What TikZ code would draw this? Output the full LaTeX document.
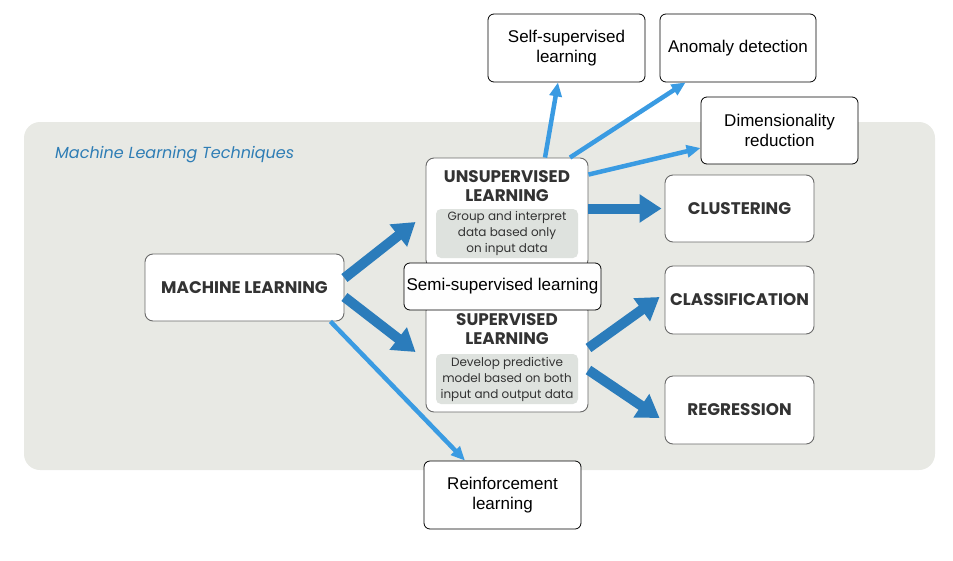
\documentclass[tikz,border=0pt]{standalone}
\usepackage{fontspec}
\setmainfont{Liberation Sans}
\newfontfamily\geo{Poppins}
\usetikzlibrary{arrows.meta}

\definecolor{panel}{HTML}{E8E9E4}
\definecolor{descfill}{HTML}{DEE2DE}
\definecolor{ink}{HTML}{333333}
\definecolor{rim}{HTML}{6A6A6A}
\definecolor{deepblue}{HTML}{2B7CBB}
\definecolor{skyblue}{HTML}{3A9BE2}
\definecolor{titleblue}{HTML}{2E7DB5}

\tikzset{
  conceptbox/.style={draw=rim, line width=0.9pt, fill=white, rounded corners=8pt, inner sep=0pt},
  plainbox/.style={draw=black, line width=0.8pt, fill=white, rounded corners=6pt, inner sep=0pt,
    align=center, font=\fontsize{17}{20}\selectfont},
  headtext/.style={font=\geo\bfseries\fontsize{16.8}{19}\selectfont, text=ink, align=center, inner sep=0pt},
  desctext/.style={fill=descfill, rounded corners=5pt, inner sep=0pt, align=center, text=ink,
    font=\geo\fontsize{12}{16}\selectfont},
  bigarrow/.style={draw=deepblue, line width=10pt, -{Triangle[length=22pt,width=27pt]}},
  thinarrow/.style={draw=skyblue, line width=4.5pt, -{Triangle[length=14pt,width=12pt]}},
}

\begin{document}
\begin{tikzpicture}[x=1pt,y=-1pt]
  \useasboundingbox (0,0) rectangle (953,560);

  % panel behind the technique map
  \fill[panel, rounded corners=16pt] (24,122) rectangle (935,470);
  \node[anchor=west, text=titleblue, font=\geo\itshape\fontsize{16}{18}\selectfont, inner sep=0pt]
    (paneltitle) at (55,155) {Machine Learning Techniques};

  % main concept boxes
  \node[conceptbox, minimum width=199pt, minimum height=67pt] (ml) at (244.5,287.5) {};
  \node[headtext] (mltext) at (ml.center) {MACHINE LEARNING};

  \node[conceptbox, minimum width=162pt, minimum height=110pt] (unsup) at (507,213) {};
  \node[headtext] (unsuptitle) at (507,186.5) {UNSUPERVISED\\LEARNING};
  \node[desctext, minimum width=142pt, minimum height=49pt] (unsupdesc) at (507,233.5)
    {Group and interpret\\data based only\\on input data};

  \node[conceptbox, minimum width=162pt, minimum height=109pt] (sup) at (507,357.5) {};
  \node[headtext] (suptitle) at (507,329.5) {SUPERVISED\\LEARNING};
  \node[desctext, minimum width=142pt, minimum height=50pt] (supdesc) at (507,379)
    {Develop predictive\\model based on both\\input and output data};

  \node[plainbox, fill=white!97!panel, minimum width=197pt, minimum height=47pt] (semi) at (502.5,286.5)
    {Semi-supervised learning};

  % task boxes
  \node[conceptbox, minimum width=149pt, minimum height=67pt] (clust) at (739.5,208.5) {};
  \node[headtext] (clusttext) at (clust.center) {CLUSTERING};
  \node[conceptbox, minimum width=149pt, minimum height=68pt] (class) at (739.5,300) {};
  \node[headtext] (classtext) at (class.center) {CLASSIFICATION};
  \node[conceptbox, minimum width=149pt, minimum height=68pt] (reg) at (739.5,410) {};
  \node[headtext] (regtext) at (reg.center) {REGRESSION};

  % other learning settings
  \node[plainbox, minimum width=157pt, minimum height=68pt] (self) at (566.5,48) {Self-supervised\\learning};
  \node[plainbox, minimum width=156pt, minimum height=68pt] (anom) at (738,48) {Anomaly detection};
  \node[plainbox, minimum width=157pt, minimum height=67pt] (dim) at (779.5,130.5) {Dimensionality\\reduction};
  \node[plainbox, minimum width=157pt, minimum height=68pt] (rl) at (502.5,495) {Reinforcement\\learning};

  % main flow
  \draw[bigarrow] ([yshift=9.5pt]ml.east) -- ([xshift=-10pt,yshift=-9pt]unsup.west);
  \draw[bigarrow] ([yshift=-9.5pt]ml.east) -- ([xshift=-10pt,yshift=5.5pt]sup.west);
  \draw[bigarrow] (unsup.east |- clust.west) -- ([xshift=-3pt]clust.west);
  \draw[bigarrow] ([yshift=9.5pt]sup.east) -- ([xshift=-5pt,yshift=3pt]class.west);
  \draw[bigarrow] ([yshift=-12.5pt]sup.east) -- ([xshift=-5pt,yshift=-8pt]reg.west);

  % side branches
  \draw[thinarrow] ([xshift=-14pt]ml.south east) -- ([xshift=-37.5pt]rl.north);
  \draw[thinarrow] ([xshift=38pt]unsup.north) -- ([xshift=-8.5pt]self.south);
  \draw[thinarrow] ([xshift=63pt]unsup.north) -- ([xshift=26pt]anom.south west);
  \draw[thinarrow] ([yshift=-17pt]unsup.north east) -- ([yshift=-17.5pt]dim.west);
\end{tikzpicture}
\end{document}
